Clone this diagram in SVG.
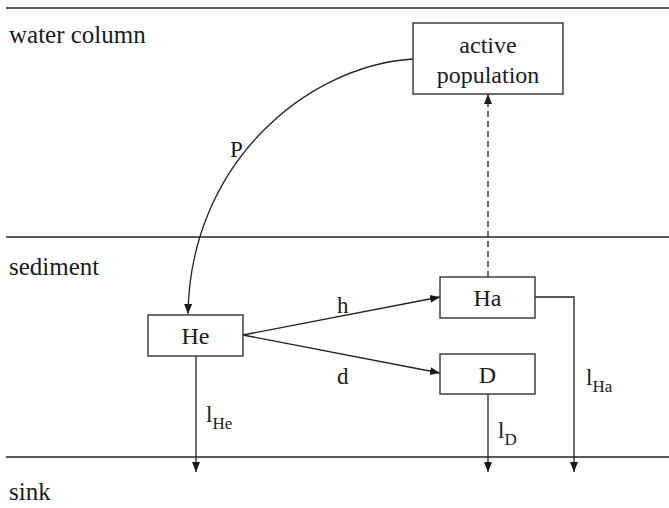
<svg xmlns="http://www.w3.org/2000/svg" width="669" height="508" viewBox="0 0 669 508">
<style>
text{font-family:"Liberation Serif","DejaVu Serif",serif;fill:#1a1a1a}
.t{font-size:24px}
.lay{font-size:25px}
.lab{font-size:23px}
.sub{font-size:17px}
.box{fill:#fff;stroke:#333;stroke-width:1.4}
.ln{stroke:#222;stroke-width:1.3;fill:none}
.c{stroke:#222;stroke-width:1.3;fill:none;marker-end:url(#ah)}
</style>
<defs>
<marker id="ah" viewBox="0 0 10 10" refX="10" refY="5" markerWidth="10" markerHeight="10" markerUnits="userSpaceOnUse" orient="auto">
<path d="M0,1 L10,5 L0,9 Z" fill="#1a1a1a"/>
</marker>
</defs>
<g id="layers">
<line class="ln" x1="6" y1="8" x2="669" y2="8"/>
<line class="ln" x1="6" y1="237" x2="669" y2="237"/>
<line class="ln" x1="6" y1="457" x2="669" y2="457"/>
<text class="lay" x="9" y="43">water column</text>
<text class="lay" x="9" y="275">sediment</text>
<text class="lay" x="9" y="500">sink</text>
</g>
<g id="connectors">
<path class="c" d="M413,59 C305,66 190,165 188,314"/>
<path class="c" d="M488,277 L488,94" stroke-dasharray="6,4"/>
<path class="c" d="M243,335 L440,297"/>
<path class="c" d="M243,335 L440,373"/>
<path class="c" d="M196,356 L196,472"/>
<path class="c" d="M488,394 L488,472"/>
<path class="c" d="M535,297 L574,297 L574,472"/>
<text class="lab" x="230" y="157">P</text>
<text class="lab" x="337" y="313">h</text>
<text class="lab" x="337" y="384">d</text>
<text class="lab" x="206" y="422">l<tspan class="sub" dy="7">He</tspan></text>
<text class="lab" x="498" y="438">l<tspan class="sub" dy="7">D</tspan></text>
<text class="lab" x="586" y="385">l<tspan class="sub" dy="7">Ha</tspan></text>
</g>
<g id="active">
<rect class="box" x="413" y="23" width="150" height="71"/>
<text class="t" x="488" y="53" text-anchor="middle">active</text>
<text class="t" x="488" y="83" text-anchor="middle">population</text>
</g>
<g id="He">
<rect class="box" x="148" y="315" width="95" height="41"/>
<text class="t" x="195.5" y="344" text-anchor="middle">He</text>
</g>
<g id="Ha">
<rect class="box" x="440" y="277" width="95" height="41"/>
<text class="t" x="487.5" y="306" text-anchor="middle">Ha</text>
</g>
<g id="D">
<rect class="box" x="440" y="354" width="95" height="40"/>
<text class="t" x="487.5" y="383" text-anchor="middle">D</text>
</g>
</svg>
